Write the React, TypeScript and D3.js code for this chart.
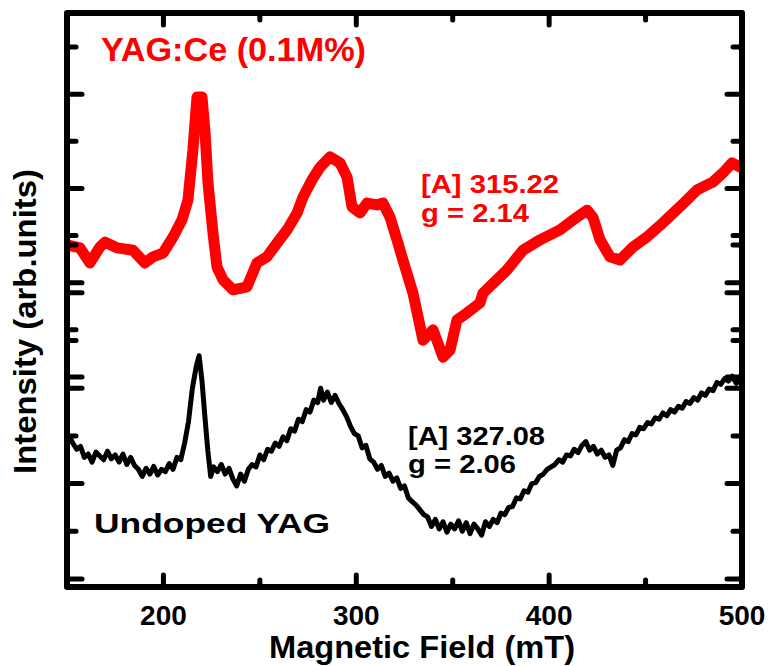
import React from 'react';
import * as d3 from 'd3';

// EPR spectra (field in mT, intensity in layer units)
const redField = [150.5, 156.7, 161.9, 167.1, 169.7, 175.9, 184.2, 190.4, 194.6, 199.8, 205.0, 209.6, 212.7, 215.3, 217.4, 220.0, 221.6, 223.1, 225.7, 227.8, 230.9, 236.1, 243.3, 248.5, 253.7, 258.9, 264.1, 269.3, 272.4, 277.0, 281.2, 286.4, 291.6, 295.2, 297.8, 301.9, 305.6, 310.7, 313.8, 317.5, 321.1, 324.2, 329.4, 334.6, 339.8, 345.0, 348.6, 352.2, 357.4, 364.1, 365.7, 378.1, 386.4, 395.3, 405.6, 414.4, 419.6, 422.7, 426.4, 431.5, 436.7, 443.5, 450.7, 459.0, 467.8, 476.7, 485.0, 490.1, 494.8, 499.0];
const redIntensity = [2.80, 2.74, 2.42, 2.76, 2.86, 2.74, 2.69, 2.42, 2.55, 2.63, 2.97, 3.33, 3.75, 4.82, 5.94, 5.94, 5.18, 4.12, 3.05, 2.33, 2.06, 1.85, 1.91, 2.42, 2.55, 2.84, 3.12, 3.48, 3.82, 4.18, 4.45, 4.67, 4.54, 4.24, 3.61, 3.48, 3.69, 3.65, 3.69, 3.39, 2.91, 2.48, 1.78, 0.78, 1.00, 0.42, 0.57, 1.21, 1.36, 1.57, 1.78, 2.27, 2.69, 2.91, 3.12, 3.39, 3.54, 3.39, 2.91, 2.55, 2.48, 2.76, 2.97, 3.27, 3.61, 3.97, 4.14, 4.33, 4.54, 4.45];

const blackField = [151, 153, 155, 157, 159, 161, 163, 165, 167, 169, 171, 173, 175, 177, 179, 181, 183, 185, 187, 189, 191, 193, 195, 197, 199, 201, 203, 205, 207, 209, 211, 213, 215, 217, 218.5, 220, 221.5, 223, 224.5, 226, 228, 230, 232, 234, 236, 238, 240, 242, 244, 246, 248, 250, 252, 254, 256, 258, 260, 262, 264, 266, 268, 270, 272, 274, 276, 278, 280, 281.5, 283, 285, 287, 289, 291, 293, 295, 297, 299, 301, 303, 305, 307, 309, 311, 313, 315, 317, 319, 321, 323, 325, 327, 329, 331, 333, 335, 337, 339, 341, 343, 345, 347, 349, 351, 353, 355, 357, 359, 361, 363, 365, 367, 369, 371, 373, 375, 377, 379, 381, 383, 385, 387, 389, 391, 393, 395, 397, 399, 401, 403, 405, 407, 409, 411, 413, 415, 417, 419, 421, 423, 425, 427, 429, 431, 433, 435, 437, 439, 441, 443, 445, 447, 449, 451, 453, 455, 457, 459, 461, 463, 465, 467, 469, 471, 473, 475, 477, 479, 481, 483, 485, 487, 489, 491, 493, 495, 497, 499];
const blackIntensity = [3.00, 2.85, 2.72, 2.78, 2.55, 2.62, 2.45, 2.66, 2.58, 2.50, 2.68, 2.52, 2.60, 2.45, 2.62, 2.40, 2.55, 2.38, 2.30, 2.15, 2.32, 2.20, 2.36, 2.18, 2.30, 2.25, 2.42, 2.30, 2.55, 2.50, 2.85, 3.30, 4.00, 4.45, 4.68, 4.15, 3.40, 2.70, 2.15, 2.35, 2.25, 2.40, 2.20, 2.32, 2.10, 1.95, 2.20, 2.05, 2.30, 2.40, 2.35, 2.60, 2.50, 2.72, 2.68, 2.85, 2.78, 2.98, 2.90, 3.15, 3.10, 3.35, 3.30, 3.55, 3.50, 3.75, 3.70, 4.00, 3.75, 3.92, 3.70, 3.85, 3.68, 3.55, 3.40, 3.20, 3.05, 3.00, 2.75, 2.80, 2.52, 2.45, 2.30, 2.38, 2.15, 2.22, 2.05, 2.12, 1.90, 1.95, 1.70, 1.62, 1.55, 1.45, 1.35, 1.30, 1.10, 1.25, 1.05, 1.20, 0.98, 1.15, 1.05, 1.22, 1.00, 1.18, 0.95, 1.15, 1.05, 0.92, 1.20, 1.10, 1.25, 1.18, 1.38, 1.35, 1.50, 1.52, 1.70, 1.68, 1.85, 1.82, 2.00, 2.02, 2.15, 2.20, 2.30, 2.35, 2.40, 2.50, 2.45, 2.60, 2.58, 2.72, 2.65, 2.80, 2.88, 2.70, 2.78, 2.62, 2.70, 2.55, 2.60, 2.38, 2.70, 2.75, 2.92, 2.88, 3.05, 3.02, 3.18, 3.15, 3.28, 3.25, 3.38, 3.35, 3.48, 3.42, 3.55, 3.50, 3.62, 3.58, 3.72, 3.68, 3.80, 3.75, 3.90, 3.85, 3.98, 3.95, 4.12, 4.08, 4.20, 4.15, 4.25, 4.10, 4.18];

const xMajorTicks = [200, 300, 400, 500];
const xMinorTicks = [250, 350, 450];
const layerTicks = [0, 1, 2, 3, 4, 5, 6, 7];

const W = 771;
const H = 666;
const left = 67, right = 742, top = 13, bottom = 587;
const font = '"Liberation Sans", Arial, Helvetica, sans-serif';

export default function App() {
  const x = d3.scaleLinear().domain([150, 500]).range([left, right]);
  // two stacked layers, each with its own intensity axis
  const yBlack = d3.scaleLinear().domain([-0.168, 11.866]).range([bottom, top]);
  const yRed = d3.scaleLinear().domain([-4.455, 7.722]).range([bottom, top]);

  const line = (ys: d3.ScaleLinear<number, number>) =>
    d3.line<[number, number]>().x(d => x(d[0])).y(d => ys(d[1]));

  const redPath = line(yRed)(redField.map((f, i) => [f, redIntensity[i]]));
  const blackPath = line(yBlack)(blackField.map((f, i) => [f, blackIntensity[i]]));

  const yTicks = (ys: d3.ScaleLinear<number, number>, key: string) =>
    layerTicks.map(t => {
      const len = t % 2 === 0 ? 15 : 9;
      const yy = ys(t);
      return (
        <g key={key + t}>
          <line x1={left} x2={left + len} y1={yy} y2={yy} />
          <line x1={right} x2={right - len} y1={yy} y2={yy} />
        </g>
      );
    });

  const xTick = (t: number, len: number) => (
    <g key={'x' + t}>
      <line x1={x(t)} x2={x(t)} y1={bottom} y2={bottom - len} />
      <line x1={x(t)} x2={x(t)} y1={top} y2={top + len} />
    </g>
  );

  return (
    <svg width={W} height={H} style={{ position: 'absolute', left: 0, top: 0, background: '#fff' }}>
      <defs>
        <clipPath id="plot">
          <rect x={left} y={top} width={right - left} height={bottom - top} />
        </clipPath>
      </defs>

      <g clipPath="url(#plot)" fill="none" strokeLinejoin="round" strokeLinecap="round">
        <path d={blackPath || ''} stroke="#000" strokeWidth={5} />
        <path d={redPath || ''} stroke="#ff0000" strokeWidth={11} />
      </g>

      {/* ticks */}
      <g stroke="#000" strokeWidth={5} strokeLinecap="round">
        {yTicks(yBlack, 'b')}
        {yTicks(yRed, 'r')}
        {xMajorTicks.map(t => xTick(t, 12))}
        {xMinorTicks.map(t => xTick(t, 7))}
      </g>

      {/* frame */}
      <rect x={left} y={top} width={right - left} height={bottom - top}
        fill="none" stroke="#000" strokeWidth={6} strokeLinejoin="round" />

      <g fontFamily={font} fontWeight="bold">
        {xMajorTicks.map(t => (
          <text key={'l' + t} x={x(t)} y={625} fontSize={28} textAnchor="middle">{t}</text>
        ))}
        <text x={269} y={658} fontSize={31} textLength={306} lengthAdjust="spacingAndGlyphs">Magnetic Field (mT)</text>
        <text transform={`translate(36,474) rotate(-90)`} fontSize={31} textLength={305} lengthAdjust="spacingAndGlyphs">
          Intensity (arb.units)
        </text>

        <text x={101} y={61} fontSize={33} fill="#ff0000" textLength={265} lengthAdjust="spacingAndGlyphs">YAG:Ce (0.1M%)</text>
        <text x={421} y={193} fontSize={26} fill="#ff0000" textLength={138} lengthAdjust="spacingAndGlyphs">[A] 315.22</text>
        <text x={421} y={222} fontSize={26} fill="#ff0000" textLength={108} lengthAdjust="spacingAndGlyphs">g = 2.14</text>

        <text x={408} y={445} fontSize={26} textLength={137} lengthAdjust="spacingAndGlyphs">[A] 327.08</text>
        <text x={408} y={473} fontSize={26} textLength={108} lengthAdjust="spacingAndGlyphs">g = 2.06</text>
        <text x={94} y={533} fontSize={27} textLength={236} lengthAdjust="spacingAndGlyphs">Undoped YAG</text>
      </g>
    </svg>
  );
}
